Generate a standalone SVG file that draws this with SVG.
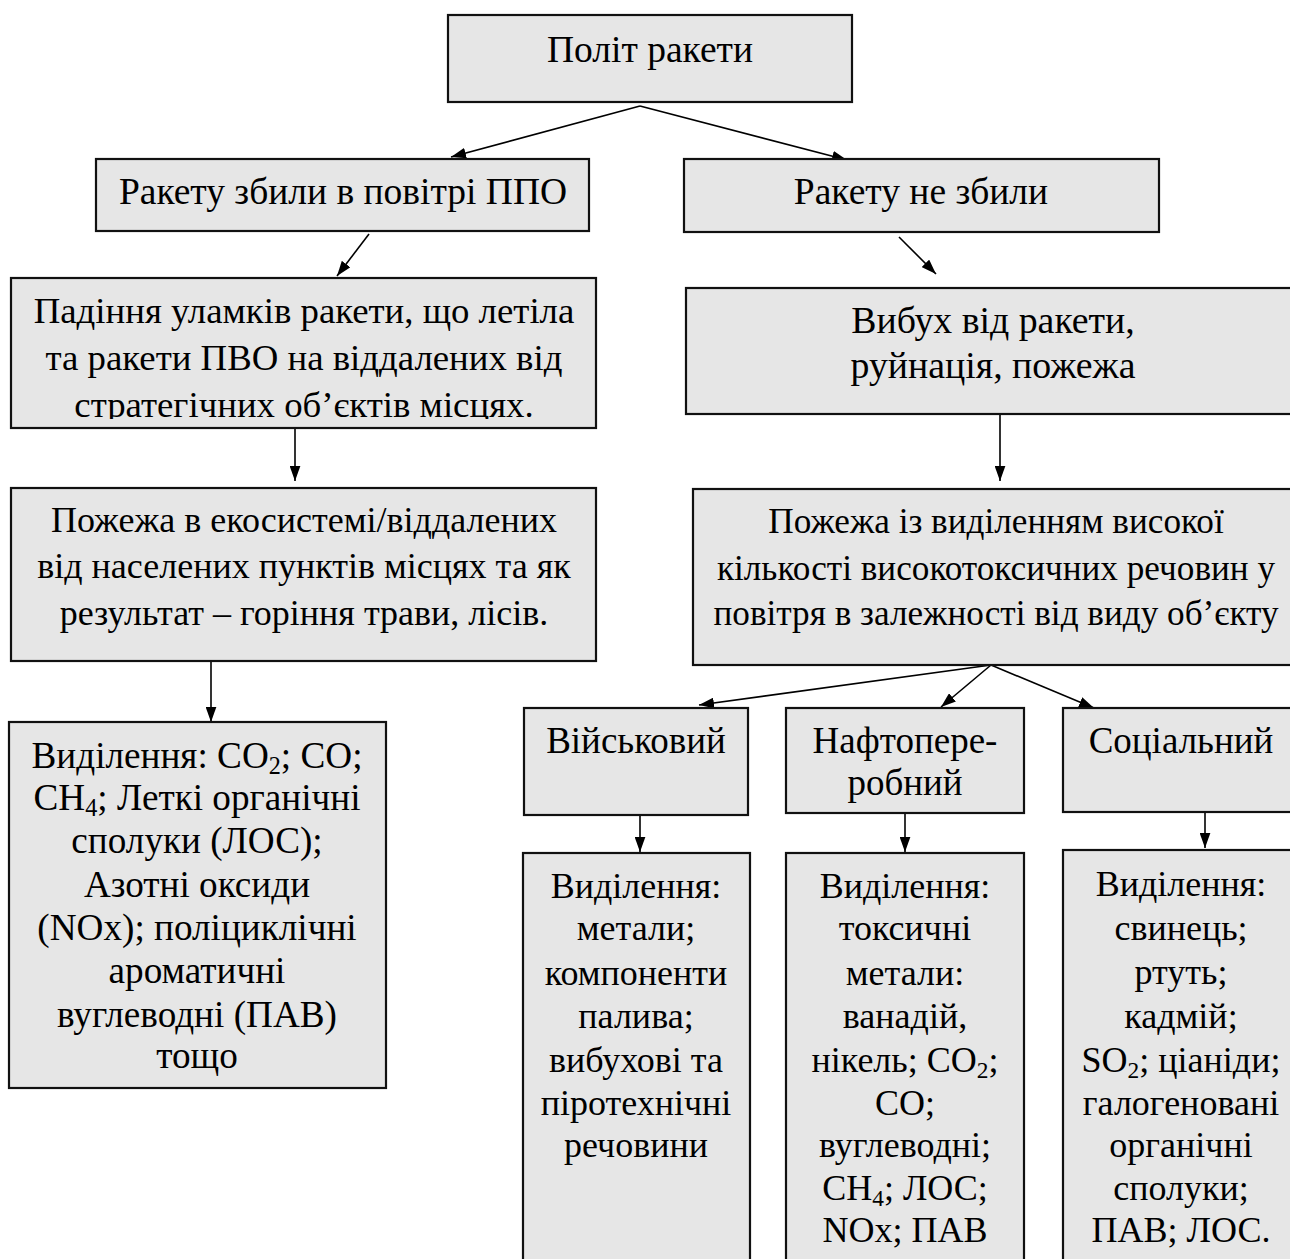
<svg xmlns="http://www.w3.org/2000/svg" width="1290" height="1259" viewBox="0 0 1290 1259">
<style>
.box{fill:#e6e6e6;stroke:#111;stroke-width:2.2}
.t{font-family:"Liberation Serif","Times New Roman",serif;font-size:36px;fill:#000;text-anchor:middle}
.top{font-size:37.5px}
.f5{font-size:36.8px}
.f6{font-size:37.8px}
.f7{font-size:36px}
.f8{font-size:35.2px}
.f9{font-size:37.2px}
.s{font-size:37px}
.b{font-size:36px}
.sub{font-size:0.65em}
.c{stroke:#000;stroke-width:1.6;fill:none;marker-end:url(#ah)}
</style>
<defs>
<marker id="ah" viewBox="0 0 14 10" refX="14" refY="5" markerWidth="15" markerHeight="11" markerUnits="userSpaceOnUse" orient="auto">
<path d="M0,0 L14,5 L0,10 z" fill="#000"/>
</marker>
<clipPath id="clip5"><rect x="11" y="278" width="585" height="141"/></clipPath>
</defs>
<rect width="1290" height="1259" fill="#fff"/>

<g id="connectors">
<line class="c" x1="640" y1="106" x2="451" y2="157"/>
<line class="c" x1="640" y1="106" x2="847" y2="160"/>
<line class="c" x1="369" y1="234" x2="337" y2="276"/>
<line class="c" x1="899" y1="237" x2="936" y2="274"/>
<line class="c" x1="295" y1="428" x2="295" y2="481"/>
<line class="c" x1="1000" y1="414" x2="1000" y2="481"/>
<line class="c" x1="211" y1="661" x2="211" y2="722"/>
<line class="c" x1="991" y1="665" x2="699" y2="705"/>
<line class="c" x1="991" y1="665" x2="941" y2="707"/>
<line class="c" x1="991" y1="665" x2="1094" y2="708"/>
<line class="c" x1="640" y1="815" x2="640" y2="852"/>
<line class="c" x1="905" y1="813" x2="905" y2="852"/>
<line class="c" x1="1205" y1="808" x2="1205" y2="848"/>
</g>

<g id="n-polit">
<rect class="box" x="448" y="15" width="404" height="87"/>
<text class="t top" x="650" y="62">Політ ракети</text>
</g>

<g id="n-zbyly">
<rect class="box" x="96" y="159" width="493" height="72"/>
<text class="t top" x="343" y="204">Ракету збили в повітрі ППО</text>
</g>

<g id="n-ne-zbyly">
<rect class="box" x="684" y="159" width="475" height="73"/>
<text class="t top" x="921" y="204">Ракету не збили</text>
</g>

<g id="n-padinnia">
<rect class="box" x="11" y="278" width="585" height="150"/>
<text class="t f5" x="304" clip-path="url(#clip5)"><tspan x="304" y="323">Падіння уламків ракети, що летіла</tspan><tspan x="304" y="370">та ракети ПВО на віддалених від</tspan><tspan x="304" y="417">стратегічних об’єктів місцях.</tspan></text>
</g>

<g id="n-vybukh">
<rect class="box" x="686" y="288" width="620" height="126"/>
<text class="t f6"><tspan x="993" y="333">Вибух від ракети,</tspan><tspan x="993" y="378">руйнація, пожежа</tspan></text>
</g>

<g id="n-pozhezha-eko">
<rect class="box" x="11" y="488" width="585" height="173"/>
<text class="t f7"><tspan x="304" y="532">Пожежа в екосистемі/віддалених</tspan><tspan x="304" y="578">від населених пунктів місцях та як</tspan><tspan x="304" y="625">результат – горіння трави, лісів.</tspan></text>
</g>

<g id="n-pozhezha-toks">
<rect class="box" x="693" y="489" width="620" height="176"/>
<text class="t f8"><tspan x="996" y="533">Пожежа із виділенням високої</tspan><tspan x="996" y="580">кількості високотоксичних речовин у</tspan><tspan x="996" y="625">повітря в залежності від виду об’єкту</tspan></text>
</g>

<g id="n-vydilennia-eko">
<rect class="box" x="9" y="722" width="377" height="366"/>
<text class="t f9"><tspan x="197" y="768">Виділення: CO<tspan class="sub" dy="6">2</tspan><tspan dy="-6">; CO;</tspan></tspan><tspan x="197" y="810">CH<tspan class="sub" dy="6">4</tspan><tspan dy="-6">; Леткі органічні</tspan></tspan><tspan x="197" y="853">сполуки (ЛОС);</tspan><tspan x="197" y="897">Азотні оксиди</tspan><tspan x="197" y="940">(NOx); поліциклічні</tspan><tspan x="197" y="983">ароматичні</tspan><tspan x="197" y="1027">вуглеводні (ПАВ)</tspan><tspan x="197" y="1068">тощо</tspan></text>
</g>

<g id="n-viiskovyi">
<rect class="box" x="524" y="708" width="224" height="107"/>
<text class="t s" x="636" y="753">Військовий</text>
</g>

<g id="n-naftopererobnyi">
<rect class="box" x="786" y="708" width="238" height="105"/>
<text class="t s"><tspan x="905" y="753">Нафтопере-</tspan><tspan x="905" y="795">робний</tspan></text>
</g>

<g id="n-sotsialnyi">
<rect class="box" x="1063" y="708" width="250" height="104"/>
<text class="t s" x="1181" y="753">Соціальний</text>
</g>

<g id="n-vydilennia-viisk">
<rect class="box" x="523" y="853" width="227" height="430"/>
<text class="t b"><tspan x="636" y="898">Виділення:</tspan><tspan x="636" y="940">метали;</tspan><tspan x="636" y="985">компоненти</tspan><tspan x="636" y="1028">палива;</tspan><tspan x="636" y="1072">вибухові та</tspan><tspan x="636" y="1115">піротехнічні</tspan><tspan x="636" y="1157">речовини</tspan></text>
</g>

<g id="n-vydilennia-nafto">
<rect class="box" x="786" y="853" width="238" height="430"/>
<text class="t b"><tspan x="905" y="898">Виділення:</tspan><tspan x="905" y="940">токсичні</tspan><tspan x="905" y="985">метали:</tspan><tspan x="905" y="1028">ванадій,</tspan><tspan x="905" y="1072">нікель; CO<tspan class="sub" dy="6">2</tspan><tspan dy="-6">;</tspan></tspan><tspan x="905" y="1115">CO;</tspan><tspan x="905" y="1157">вуглеводні;</tspan><tspan x="905" y="1200">CH<tspan class="sub" dy="6">4</tspan><tspan dy="-6">; ЛОС;</tspan></tspan><tspan x="905" y="1242">NOx; ПАВ</tspan></text>
</g>

<g id="n-vydilennia-sots">
<rect class="box" x="1063" y="850" width="250" height="430"/>
<text class="t b"><tspan x="1181" y="896">Виділення:</tspan><tspan x="1181" y="940">свинець;</tspan><tspan x="1181" y="984">ртуть;</tspan><tspan x="1181" y="1028">кадмій;</tspan><tspan x="1181" y="1072">SO<tspan class="sub" dy="6">2</tspan><tspan dy="-6">; ціаніди;</tspan></tspan><tspan x="1181" y="1115">галогеновані</tspan><tspan x="1181" y="1157">органічні</tspan><tspan x="1181" y="1200">сполуки;</tspan><tspan x="1181" y="1242">ПАВ; ЛОС.</tspan></text>
</g>
</svg>
